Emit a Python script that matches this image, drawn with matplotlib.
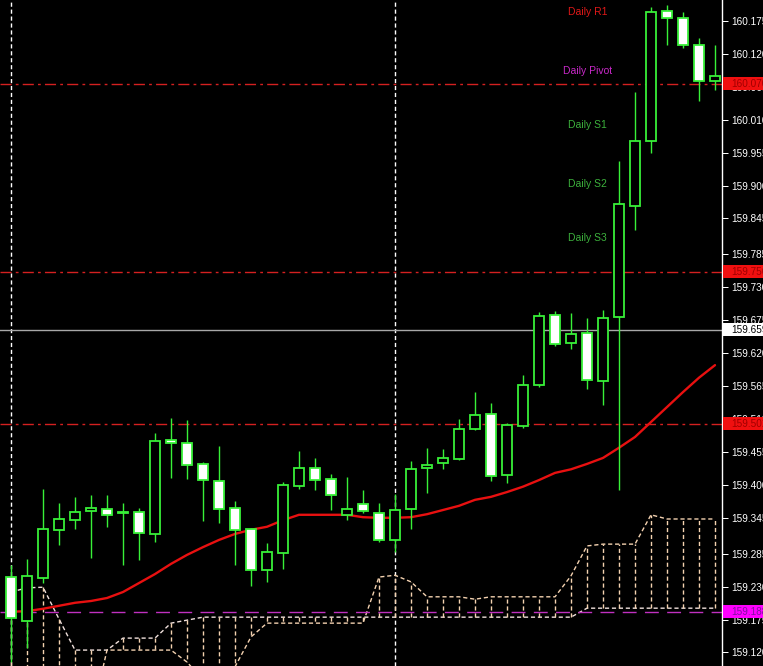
import matplotlib
import numpy as np

matplotlib.use("Agg")
import matplotlib.pyplot as plt
import matplotlib.transforms as mtransforms
from matplotlib.patches import Rectangle

plt.rcParams["font.family"] = ["Liberation Sans", "DejaVu Sans"]

# candles, oldest first (price)
opens = [159.246, 159.173, 159.244, 159.325, 159.341, 159.356, 159.360, 159.353, 159.355, 159.318,
         159.475, 159.470, 159.435, 159.406, 159.361, 159.326, 159.258, 159.286, 159.398, 159.428,
         159.410, 159.350, 159.368, 159.353, 159.308, 159.360, 159.428, 159.437, 159.443, 159.493,
         159.518, 159.416, 159.498, 159.567, 159.684, 159.637, 159.654, 159.574, 159.680, 159.866,
         159.974, 160.192, 160.180, 160.135, 160.075]
highs = [159.266, 159.276, 159.393, 159.370, 159.380, 159.383, 159.383, 159.370, 159.361, 159.487,
         159.512, 159.508, 159.438, 159.465, 159.373, 159.328, 159.303, 159.405, 159.457, 159.445,
         159.418, 159.413, 159.391, 159.370, 159.385, 159.440, 159.462, 159.460, 159.510, 159.555,
         159.537, 159.503, 159.584, 159.689, 159.690, 159.687, 159.679, 159.692, 159.941, 160.056,
         160.198, 160.202, 160.190, 160.147, 160.135]
lows = [159.104, 159.127, 159.236, 159.300, 159.326, 159.278, 159.330, 159.266, 159.274, 159.305,
        159.411, 159.410, 159.340, 159.336, 159.266, 159.231, 159.238, 159.259, 159.393, 159.391,
        159.358, 159.341, 159.353, 159.305, 159.288, 159.326, 159.386, 159.426, 159.442, 159.492,
        159.406, 159.403, 159.495, 159.563, 159.632, 159.627, 159.560, 159.533, 159.391, 159.826,
        159.954, 160.135, 160.130, 160.041, 160.060]
closes = [159.178, 159.248, 159.326, 159.343, 159.355, 159.361, 159.350, 159.353, 159.320, 159.473,
          159.470, 159.433, 159.408, 159.360, 159.325, 159.258, 159.288, 159.400, 159.428, 159.408,
          159.383, 159.360, 159.356, 159.308, 159.358, 159.426, 159.433, 159.445, 159.493, 159.517,
          159.415, 159.500, 159.567, 159.682, 159.635, 159.652, 159.575, 159.679, 159.869, 159.974,
          160.190, 160.180, 160.135, 160.075, 160.083]

# moving average
ma = [159.188, 159.189, 159.193, 159.198, 159.203, 159.206, 159.211, 159.221, 159.236, 159.251,
      159.268, 159.283, 159.296, 159.308, 159.318, 159.325, 159.330, 159.341, 159.350, 159.350,
      159.350, 159.350, 159.346, 159.345, 159.345, 159.346, 159.351, 159.358, 159.365, 159.375,
      159.380, 159.388, 159.397, 159.408, 159.420, 159.426, 159.435, 159.445, 159.462, 159.480,
      159.505, 159.530, 159.555, 159.579, 159.600]

# ichimoku cloud spans
span_a = [159.221, 159.228, 159.229, 159.176, 159.124, 159.124, 159.124, 159.144, 159.144, 159.144,
          159.169, 159.174, 159.179, 159.179, 159.179, 159.179, 159.179, 159.179, 159.179, 159.179,
          159.179, 159.179, 159.179, 159.179, 159.179, 159.179, 159.179, 159.179, 159.179, 159.179,
          159.179, 159.179, 159.179, 159.179, 159.179, 159.179, 159.194, 159.194, 159.194, 159.194,
          159.194, 159.194, 159.194, 159.194, 159.194]
span_b = [159.041, 159.041, 159.041, 159.041, 159.041, 159.007, 159.124, 159.124, 159.124, 159.124,
          159.124, 159.104, 159.074, 159.074, 159.096, 159.146, 159.169, 159.169, 159.169, 159.169,
          159.169, 159.169, 159.169, 159.246, 159.249, 159.238, 159.213, 159.213, 159.213, 159.209,
          159.213, 159.213, 159.213, 159.213, 159.213, 159.248, 159.298, 159.301, 159.301, 159.301,
          159.350, 159.343, 159.343, 159.343, 159.343]

# horizontal levels: (price, label, line colour, box colour, text colour, style)
levels = [
    (160.070, "160.070", "#d42020", "#f01010", "#a00000", (0, (8, 3, 2, 3))),
    (159.756, "159.756", "#d42020", "#f01010", "#a00000", (0, (8, 3, 2, 3))),
    (159.659, "159.659", "#a8a8a8", "#ffffff", "#000000", "-"),
    (159.502, "159.502", "#d42020", "#f01010", "#a00000", (0, (8, 3, 2, 3))),
    (159.188, "159.188", "#c030c0", "#ff00ff", "#8010a0", (0, (10, 6))),
]

tick_values = [160.175, 160.120, 160.065, 160.010, 159.955, 159.900, 159.845, 159.785, 159.730,
               159.675, 159.620, 159.565, 159.510, 159.455, 159.400, 159.345, 159.285, 159.230,
               159.175, 159.120]

pivot_labels = [("Daily R1", 568, 12, "#e01818"), ("Daily Pivot", 563, 71, "#c828c8"),
                ("Daily S1", 568, 125, "#3cb03c"), ("Daily S2", 568, 184, "#3cb03c"),
                ("Daily S3", 568, 238, "#3cb03c")]

W, H = 763, 666
fig = plt.figure(figsize=(W / 100, H / 100), dpi=100, facecolor="black")
ax = fig.add_axes([0, 0, 722 / W, 1])
ax.set_facecolor("black")

x = np.arange(len(opens))
px = 0.72  # one pixel in points

# vertical grid
for gx in (0, 24):
    ax.axvline(gx, color="white", lw=1.0, ls=(0, (3, 2)), zorder=1)

# cloud
cloud_col = "#f4d2b0"
ax.plot(x, span_a, color="#f0e0dc", lw=1.0, ls=(0, (3, 2)), zorder=1.5)
ax.plot(x, span_b, color=cloud_col, lw=1.0, ls=(0, (3, 2)), zorder=1.5)
sa = np.array(span_a)
sb = np.array(span_b)
m = np.abs(sa - sb) > 1e-6
ax.vlines(x[m], sa[m], sb[m], colors=cloud_col, lw=1.0, linestyles=(0, (3, 2)), zorder=1.5)

# levels
for price, lab, lc, bc, tc, ls in levels:
    ax.axhline(price, color=lc, lw=1.0, ls=ls, zorder=1.8)

# moving average
ax.plot(x, ma, color="#e81010", lw=1.7, zorder=2, solid_capstyle="round")

# candles
green = "#38f038"
o = np.array(opens)
c = np.array(closes)
ax.vlines(x, lows, highs, colors=green, lw=1.0, zorder=3)
for i in range(len(o)):
    bottom = min(o[i], c[i])
    height = abs(c[i] - o[i])
    if height < 0.001:
        fill = green
        height = 0.0017
    elif c[i] > o[i]:
        fill = "black"
    else:
        fill = "white"
    ax.bar(x[i], height, bottom=bottom, width=0.6, color=fill, edgecolor=green,
           linewidth=1.3, zorder=4)

ax.set_xlim(-11 / 16, (722 - 11) / 16)
ax.set_ylim(160.210 - H / 598.6, 160.210)

for s in ("top", "left", "bottom"):
    ax.spines[s].set_visible(False)
ax.spines["right"].set_color("white")
ax.spines["right"].set_linewidth(1.0)
ax.set_xticks([])
ax.yaxis.tick_right()
ax.set_yticks(tick_values)
ax.set_yticklabels(["%.3f" % v for v in tick_values])
ax.tick_params(axis="y", colors="white", labelcolor="white", length=4, width=px,
               pad=3, labelsize=7.2)

# level price boxes on the axis
trans = mtransforms.blended_transform_factory(ax.transAxes, ax.transData)
bh = 13 / 598.6
for price, lab, lc, bc, tc, ls in levels:
    ax.add_patch(Rectangle((1.0015, price - bh / 2), 0.06, bh, transform=trans,
                           facecolor=bc, edgecolor="none", clip_on=False, zorder=10))
    ax.text(731 / 722, price, lab, transform=trans, color=tc, fontsize=7.2,
            va="center", ha="left", clip_on=False, zorder=11)

for txt, tx, ty, col in pivot_labels:
    fig.text(tx / W, 1 - ty / H, txt, color=col, fontsize=7.5, va="center", ha="left")

fig.savefig("out.png", dpi=100, facecolor="black")
